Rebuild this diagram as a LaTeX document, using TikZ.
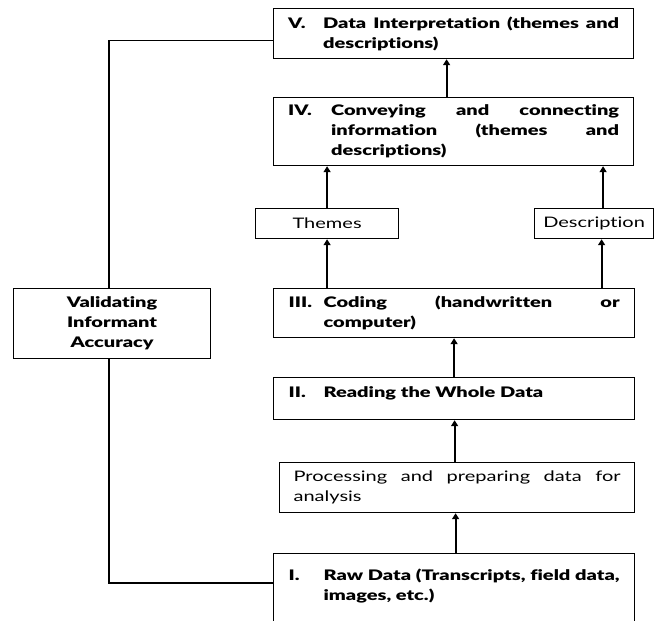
\documentclass[tikz,border=0pt]{standalone}
\usepackage{fontspec}
\setmainfont[FakeStretch=1.38,BoldFont={Lato Black},Ligatures=NoCommon]{Lato}
\usetikzlibrary{arrows.meta}
\newcommand{\steptext}[3]{\parbox{331pt}{\hangindent=#1\hangafter=1\noindent\makebox[#1][l]{#2}#3}}
\begin{document}
\begin{tikzpicture}[x=1pt,y=-1pt,
  every node/.style={font=\fontsize{14.5}{20}\selectfont},
  boxst/.style={draw, line width=1.2pt, inner sep=0pt, anchor=north west, align=center},
  bstep/.style={boxst, font=\fontsize{14.5}{20}\selectfont\bfseries},
  arr/.style={line width=1.8pt, -{Triangle[width=7pt,length=6pt]}},
  link/.style={line width=1.6pt}]
\useasboundingbox (0,0) rectangle (656,621);
\clip (0,0) rectangle (656,621);

\node[bstep, minimum width=360pt, minimum height=50pt] (V) at (273,8)
  {\steptext{35pt}{V.}{Data Interpretation (themes and\linebreak descriptions)}};
\node[bstep, minimum width=360pt, minimum height=68pt] (IV) at (273,97)
  {\steptext{43pt}{IV.}{Conveying and connecting\linebreak information (themes and\linebreak descriptions)}};
\node[boxst, minimum width=143pt, minimum height=30pt] (Th) at (255,208) {Themes};
\node[boxst, minimum width=119pt, minimum height=30pt] (De) at (534,208) {Description};
\node[bstep, minimum width=361pt, minimum height=49pt] (III) at (273,288)
  {\steptext{35pt}{III.}{Coding (handwritten or\linebreak computer)}};
\node[bstep, minimum width=361pt, minimum height=42pt] (II) at (273,377)
  {\parbox{331pt}{\steptext{35pt}{II.}{Reading the Whole Data}\vspace{10pt}}};
\node[boxst, minimum width=355pt, minimum height=50pt] (P) at (279,462)
  {\parbox{327pt}{Processing and preparing data for\linebreak analysis}};
\node[bstep, minimum width=361pt, minimum height=110pt] (I) at (273,553)
  {\parbox{331pt}{\steptext{35pt}{I.}{Raw Data (Transcripts, field data,\linebreak images, etc.)}\vspace{46pt}}};
\node[bstep, minimum width=197pt, minimum height=70pt] (Val) at (13,288)
  {Validating\\Informant\\Accuracy};

\draw[arr] ([xshift=-7pt]IV.north) -- ([xshift=-7pt]V.south);
\draw[arr] (Th.north) -- (Th.north |- IV.south);
\draw[arr] ([xshift=9pt]De.north) -- ([xshift=9pt]De.north |- IV.south);
\draw[arr] (Th.south |- III.north) -- (Th.south);
\draw[arr] ([xshift=7.5pt]De.south |- III.north) -- ([xshift=7.5pt]De.south);
\draw[arr] (II.north) -- (III.south);
\draw[arr] ([xshift=-2.5pt]P.north) -- ([xshift=-2.5pt]P.north |- II.south);
\draw[arr] ([xshift=1.5pt]I.north) -- ([xshift=1.5pt]I.north |- P.south);

\draw[link] ([yshift=-7pt]V.west) -| ([xshift=-3pt]Val.north);
\draw[link] ([xshift=-3pt]Val.south) |- ([yshift=-30pt]I.north west);
\end{tikzpicture}
\end{document}
